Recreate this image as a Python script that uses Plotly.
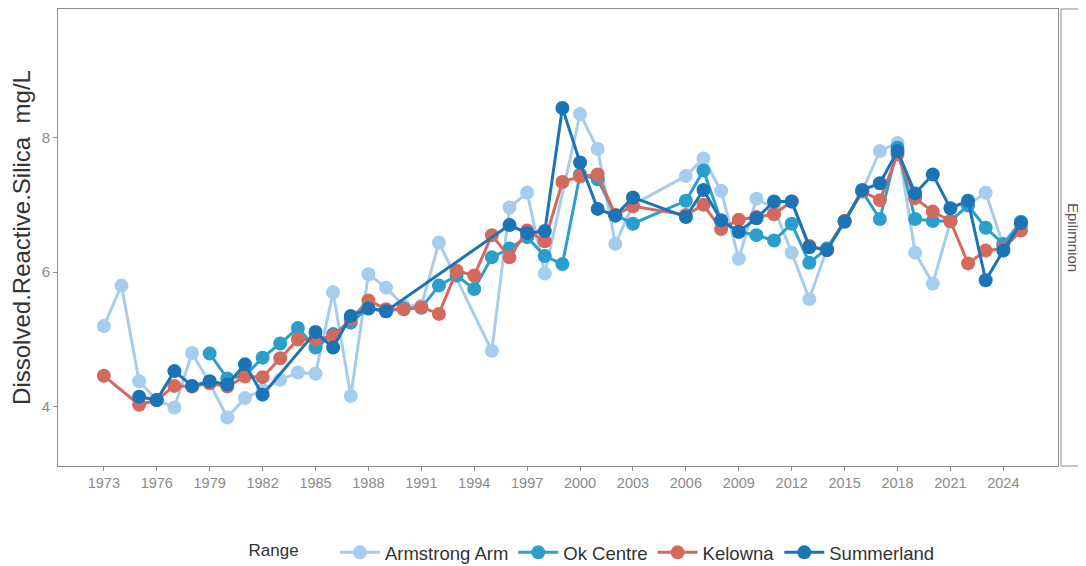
import plotly.graph_objects as go

years = list(range(1973, 2026))

# values per year 1973..2025 (None = no sample)
armstrong = [5.20, 5.80, 4.38, 4.10, 3.99, 4.80, 4.35, 3.84, 4.13, 4.25,
             4.40, 4.51, 4.49, 5.70, 4.16, 5.97, 5.77, 5.50, 5.50, 6.44,
             None, None, 4.83, 6.96, 7.18, 5.98, None, 8.35, 7.83, 6.42,
             7.00, None, None, 7.43, 7.69, 7.21, 6.20, 7.09, 6.95, 6.29,
             5.60, 6.35, 6.76, 7.20, 7.80, 7.92, 6.29, 5.83, 6.75, 7.00,
             7.18, 6.40, 6.70]
ok_centre = [None, None, None, None, None, None, 4.79, 4.42, 4.46, 4.73,
             4.94, 5.17, 4.88, 5.08, 5.25, 5.47, 5.42, 5.46, 5.47, 5.80,
             5.95, 5.75, 6.22, 6.35, 6.52, 6.24, 6.12, 7.45, 7.38, 6.85,
             6.72, None, None, 7.06, 7.51, 6.76, 6.60, 6.55, 6.47, 6.72,
             6.14, 6.35, 6.76, 7.20, 6.79, 7.85, 6.79, 6.76, 6.76, 6.99,
             6.66, 6.42, 6.75]
kelowna = [4.46, None, 4.03, 4.10, 4.31, 4.30, 4.35, 4.30, 4.45, 4.44,
           4.72, 5.00, 5.00, 5.05, 5.30, 5.58, 5.45, 5.45, 5.48, 5.38,
           6.02, 5.95, 6.55, 6.22, 6.62, 6.46, 7.34, 7.42, 7.45, 6.85,
           6.98, None, None, 6.85, 7.00, 6.64, 6.78, 6.82, 6.86, 7.05,
           6.39, 6.33, 6.76, 7.20, 7.07, 7.75, 7.10, 6.90, 6.76, 6.13,
           6.32, 6.35, 6.62]
summerland = [None, None, 4.15, 4.10, 4.53, 4.31, 4.38, 4.33, 4.63, 4.18,
              None, None, 5.11, 4.88, 5.35, 5.46, 5.42, None, None, None,
              None, None, None, 6.70, 6.58, 6.61, 8.44, 7.63, 6.94, 6.84,
              7.11, None, None, 6.82, 7.22, 6.77, 6.60, 6.80, 7.05, 7.05,
              6.37, 6.33, 6.75, 7.22, 7.32, 7.80, 7.17, 7.45, 6.95, 7.06,
              5.88, 6.32, 6.73]

series_names = ["Armstrong Arm", "Ok Centre", "Kelowna", "Summerland"]
series_values = [armstrong, ok_centre, kelowna, summerland]
series_colors = ["#a7cdee", "#2b9fcb", "#d4695e", "#1a74b6"]

tick_years = list(range(1973, 2025, 3))

fig = go.Figure()
for name, vals, col in zip(series_names, series_values, series_colors):
    fig.add_trace(go.Scatter(
        x=years, y=vals, name=name, mode="lines+markers",
        connectgaps=True,
        line=dict(color=col, width=3),
        marker=dict(color=col, size=14),
    ))

axis_col = "#8c8c8c"
fig.update_layout(
    width=1078, height=558,
    paper_bgcolor="white", plot_bgcolor="white",
    margin=dict(l=50, r=28, t=1, b=100, autoexpand=False),
    font=dict(family="Liberation Sans, Arial, sans-serif"),
    xaxis=dict(
        range=[1970.4, 2027.1], tickvals=tick_years,
        ticktext=[str(t) for t in tick_years],
        showgrid=False, zeroline=False, automargin=False,
        showline=True, mirror=True, linecolor=axis_col, linewidth=1,
        ticks="outside", ticklen=4, tickcolor=axis_col,
        tickfont=dict(size=14.5, color="#8a8a8a"),
    ),
    yaxis=dict(
        range=[3.12, 9.91], tickvals=[4, 6, 8],
        showgrid=False, zeroline=False, automargin=False,
        showline=True, mirror=True, linecolor=axis_col, linewidth=1,
        ticks="outside", ticklen=4, tickcolor=axis_col,
        tickfont=dict(size=15, color="#8a8a8a"),
        title=dict(text="Dissolved.Reactive.Silica\u00a0\u00a0mg/L",
                   font=dict(size=24, color="#333333"), standoff=8),
    ),
    legend=dict(
        orientation="h", x=0.535, xanchor="center", y=-0.19, yanchor="middle",
        title=dict(text="Range\u00a0\u00a0\u00a0\u00a0\u00a0\u00a0", font=dict(size=17, color="#333333")),
        font=dict(size=18.5, color="#333333"),
        itemwidth=40,
    ),
    showlegend=True,
)

# facet strip on the right
fig.add_shape(type="rect", xref="paper", yref="paper",
              x0=1.003, x1=1.05, y0=0, y1=1,
              line=dict(color=axis_col, width=1), fillcolor="white", layer="below")
fig.add_annotation(xref="paper", yref="paper", x=1.0155, y=0.5,
                   xanchor="center", yanchor="middle",
                   text="Epilimnion", textangle=90, showarrow=False,
                   font=dict(size=15, color="#555555"))

fig.write_html("out.html")
